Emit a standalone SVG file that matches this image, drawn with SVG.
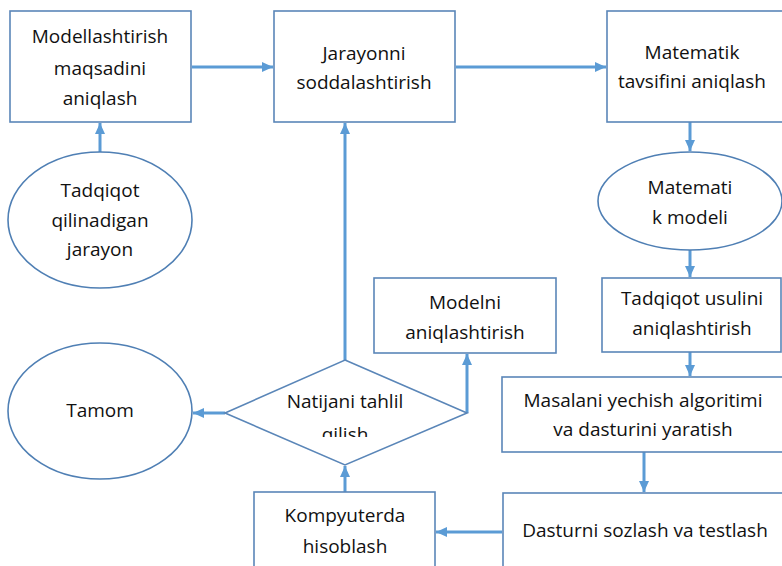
<svg xmlns="http://www.w3.org/2000/svg" width="782" height="566" viewBox="0 0 782 566">
<style>
.box{fill:#fff;stroke:#5a86b8;stroke-width:1.6}
.ell{fill:#fff;stroke:#4f7fb4;stroke-width:1.6}
.t{font-family:"Open Sans","Noto Sans",sans-serif;font-size:19px;fill:#111;text-anchor:middle}
.c{fill:none;stroke:#5b9bd5;stroke-width:3}
</style>
<defs>
<marker id="ah" markerUnits="userSpaceOnUse" markerWidth="12" markerHeight="10" refX="11" refY="5" orient="auto">
<path d="M0,0 L11,5 L0,10 Z" fill="#5b9bd5"/>
</marker>
<clipPath id="dclip"><rect x="200" y="340" width="300" height="97"/></clipPath>
</defs>
<rect width="782" height="566" fill="#fff"/>
<g id="connectors">
<line class="c" x1="192" y1="67" x2="273" y2="67" marker-end="url(#ah)"/>
<line class="c" x1="456" y1="67" x2="606" y2="67" marker-end="url(#ah)"/>
<line class="c" x1="100" y1="152" x2="100" y2="123" marker-end="url(#ah)"/>
<line class="c" x1="345" y1="360" x2="345" y2="123" marker-end="url(#ah)"/>
<line class="c" x1="690" y1="122" x2="690" y2="151" marker-end="url(#ah)"/>
<line class="c" x1="690" y1="250" x2="690" y2="277" marker-end="url(#ah)"/>
<line class="c" x1="690" y1="352" x2="690" y2="376" marker-end="url(#ah)"/>
<line class="c" x1="644" y1="452" x2="644" y2="492" marker-end="url(#ah)"/>
<line class="c" x1="502" y1="532" x2="436" y2="532" marker-end="url(#ah)"/>
<line class="c" x1="345" y1="492" x2="345" y2="466" marker-end="url(#ah)"/>
<line class="c" x1="467" y1="413" x2="467" y2="354" marker-end="url(#ah)"/>
<line class="c" x1="225" y1="413" x2="193" y2="413" marker-end="url(#ah)"/>
</g>
<g id="n1">
<rect class="box" x="10" y="11" width="181" height="111"/>
<text class="t" x="100" y="43">Modellashtirish</text>
<text class="t" x="100" y="75">maqsadini</text>
<text class="t" x="100" y="105">aniqlash</text>
</g>
<g id="n2">
<rect class="box" x="274" y="11" width="181" height="111"/>
<text class="t" x="364" y="60">Jarayonni</text>
<text class="t" x="364" y="89">soddalashtirish</text>
</g>
<g id="n3">
<rect class="box" x="607" y="11" width="180" height="111"/>
<text class="t" x="692" y="59">Matematik</text>
<text class="t" x="692" y="88">tavsifini aniqlash</text>
</g>
<g id="n4">
<ellipse class="ell" cx="100" cy="220" rx="92" ry="68"/>
<text class="t" x="100" y="197">Tadqiqot</text>
<text class="t" x="100" y="227">qilinadigan</text>
<text class="t" x="100" y="256">jarayon</text>
</g>
<g id="n5">
<ellipse class="ell" cx="690" cy="201" rx="92" ry="49"/>
<text class="t" x="690" y="194">Matemati</text>
<text class="t" x="690" y="224">k modeli</text>
</g>
<g id="n6">
<rect class="box" x="602" y="278" width="179" height="74"/>
<text class="t" x="692" y="305">Tadqiqot usulini</text>
<text class="t" x="692" y="335">aniqlashtirish</text>
</g>
<g id="n7">
<rect class="box" x="374" y="278" width="182" height="75"/>
<text class="t" x="465" y="309">Modelni</text>
<text class="t" x="465" y="339">aniqlashtirish</text>
</g>
<g id="n8">
<rect class="box" x="502" y="377" width="290" height="75"/>
<text class="t" x="643" y="407">Masalani yechish algoritimi</text>
<text class="t" x="643" y="436">va dasturini yaratish</text>
</g>
<g id="n9">
<polygon class="box" points="345,360 467,413 345,465 225,413"/>
<text class="t" x="345" y="408">Natijani tahlil</text>
<text class="t" x="345" y="441" clip-path="url(#dclip)">qilish</text>
</g>
<g id="n10">
<ellipse class="ell" cx="100" cy="411" rx="92" ry="68"/>
<text class="t" x="100" y="417">Tamom</text>
</g>
<g id="n11">
<rect class="box" x="254" y="492" width="181" height="90"/>
<text class="t" x="345" y="522">Kompyuterda</text>
<text class="t" x="345" y="553">hisoblash</text>
</g>
<g id="n12">
<rect class="box" x="503" y="493" width="290" height="90"/>
<text class="t" x="645" y="537">Dasturni sozlash va testlash</text>
</g>
</svg>
